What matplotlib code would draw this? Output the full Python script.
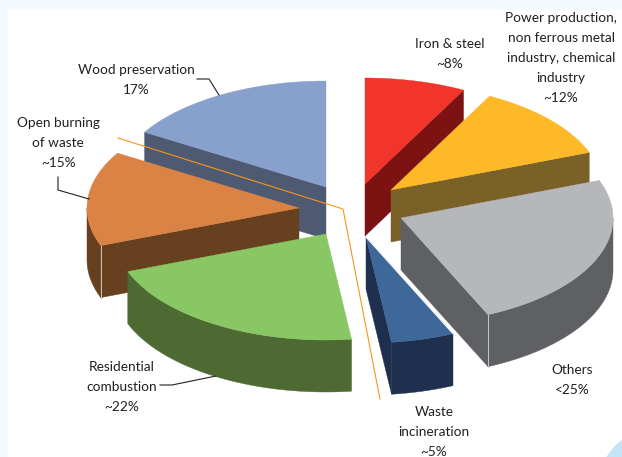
#!/usr/bin/env python3
"""Exploded 3D-look pie of emission sources, drawn on a pixel-sized axes."""
import numpy as np
import matplotlib
matplotlib.use("Agg")
import matplotlib.pyplot as plt
from matplotlib.patches import Circle, Rectangle

plt.rcParams["font.family"] = ["Lato", "DejaVu Sans"]

# Slices, clockwise from 12 o'clock. The labels add up to a bit over 100.
names = ["Iron & steel", "Power production", "Others", "Waste incineration",
         "Residential combustion", "Open burning of waste", "Wood preservation"]
shares = [8, 12, 25, 5, 22, 15, 17]
labels = [
    "Iron & steel\n~8%",
    "Power production,\nnon ferrous metal\nindustry, chemical\nindustry\n~12%",
    "Others\n<25%",
    "Waste\nincineration\n~5%",
    "Residential\ncombustion\n~22%",
    "Open burning\nof waste\n~15%",
    "Wood preservation\n17%",
]

top_colors = ["#F1352B", "#FDB927", "#B6B7BB", "#3D6899", "#89C664", "#DA8344", "#87A0CC"]
side_colors = ["#7C1212", "#7A6128", "#5F6064", "#1F2F4E", "#4C6A32", "#66401F", "#4D5A72"]

# Where each slice's tip ended up after exploding, in pixels
tips = [(365, 184), (391, 190), (401, 218), (366, 237), (326, 234), (299, 208), (326, 187)]
label_xy = [(449.5, 54), (561, 58), (572, 380), (434, 432), (122, 387), (58, 143), (136, 80)]

RX, RY = 212, 106  # ellipse radii of the tilted pie
DEPTH = 52
DRAW_ORDER = [6, 5, 4, 0, 1, 2, 3]  # back to front
TEXT_COLOR = "#231F20"
LEADER_COLOR = "#F7941D"


def rim_point(tip, t):
    """Point on the slice's outer edge, t in degrees clockwise from the top."""
    r = np.radians(t)
    return tip[0] + RX * np.sin(r), tip[1] - RY * np.cos(r)


def draw_poly(ax, xs, ys, color, z):
    ax.fill(xs, ys, facecolor=color, edgecolor=color, linewidth=0.3, zorder=z)


def draw_slice(ax, tip, t1, t2, top, side, z):
    ts = np.linspace(t1, t2, 80)
    px, py = rim_point(tip, ts)

    # cut faces only show when they turn towards the viewer
    for t, show in ((t1, np.sin(np.radians(t1)) < 0), (t2, np.sin(np.radians(t2)) > 0)):
        if show:
            ex, ey = rim_point(tip, t)
            draw_poly(ax, [tip[0], ex, ex, tip[0]],
                      [tip[1], ey, ey + DEPTH, tip[1] + DEPTH], side, z)

    # outer wall, front half of the ellipse only
    lo, hi = max(t1, 90), min(t2, 270)
    if lo < hi:
        ws = np.linspace(lo, hi, 80)
        wx, wy = rim_point(tip, ws)
        draw_poly(ax, np.r_[wx, wx[::-1]], np.r_[wy, wy[::-1] + DEPTH], side, z)

    draw_poly(ax, np.r_[tip[0], px], np.r_[tip[1], py], top, z + 0.1)


def main():
    fig = plt.figure(figsize=(6.22, 4.57), dpi=100, facecolor="#F5FAFE")
    ax = fig.add_axes([0, 0, 1, 1])
    ax.set_xlim(0, 622)
    ax.set_ylim(457, 0)
    ax.axis("off")

    # page card and the corner of the blue swoosh behind it
    ax.add_patch(Rectangle((8, 10), 614, 447, facecolor="white", edgecolor="none", zorder=0))
    ax.add_patch(Circle((660, 490), 63, facecolor="#C4E5F6", edgecolor="none", zorder=0.5))

    edges = np.r_[0, np.cumsum(shares)] / sum(shares) * 360
    for rank, i in enumerate(DRAW_ORDER):
        draw_slice(ax, tips[i], edges[i], edges[i + 1], top_colors[i], side_colors[i], 2 + rank)

    # light seam on the corners of two slices
    for i, t in ((2, edges[3]), (5, edges[5])):
        x, y = rim_point(tips[i], t)
        ax.plot([x, x], [y, y + DEPTH], color="#C9C9C9", lw=0.7, zorder=2 + DRAW_ORDER.index(i) + 0.2)

    # white gap between waste incineration and others
    x, y = rim_point(tips[3], edges[3])
    ax.plot([tips[3][0], x], [tips[3][1], y], color="white", lw=0.8, zorder=9.5)

    # orange bracket round waste incineration / others side
    ax.plot([118, 343, 380], [138, 209, 399], color=LEADER_COLOR, lw=0.8, zorder=10)

    # black leaders
    ax.plot([197, 209, 219], [79, 79, 95], color=TEXT_COLOR, lw=0.8, zorder=10)
    ax.plot([58, 58, 89], [177, 190, 199], color=TEXT_COLOR, lw=0.8, zorder=10)
    ax.plot([160, 172, 216], [385, 385, 376], color=TEXT_COLOR, lw=0.8, zorder=10)

    for text, (x, y) in zip(labels, label_xy):
        ax.text(x, y, text, ha="center", va="center", fontsize=9.8, color=TEXT_COLOR,
                linespacing=1.78, zorder=11)

    fig.savefig("out.png", dpi=100, facecolor=fig.get_facecolor())


if __name__ == "__main__":
    main()
